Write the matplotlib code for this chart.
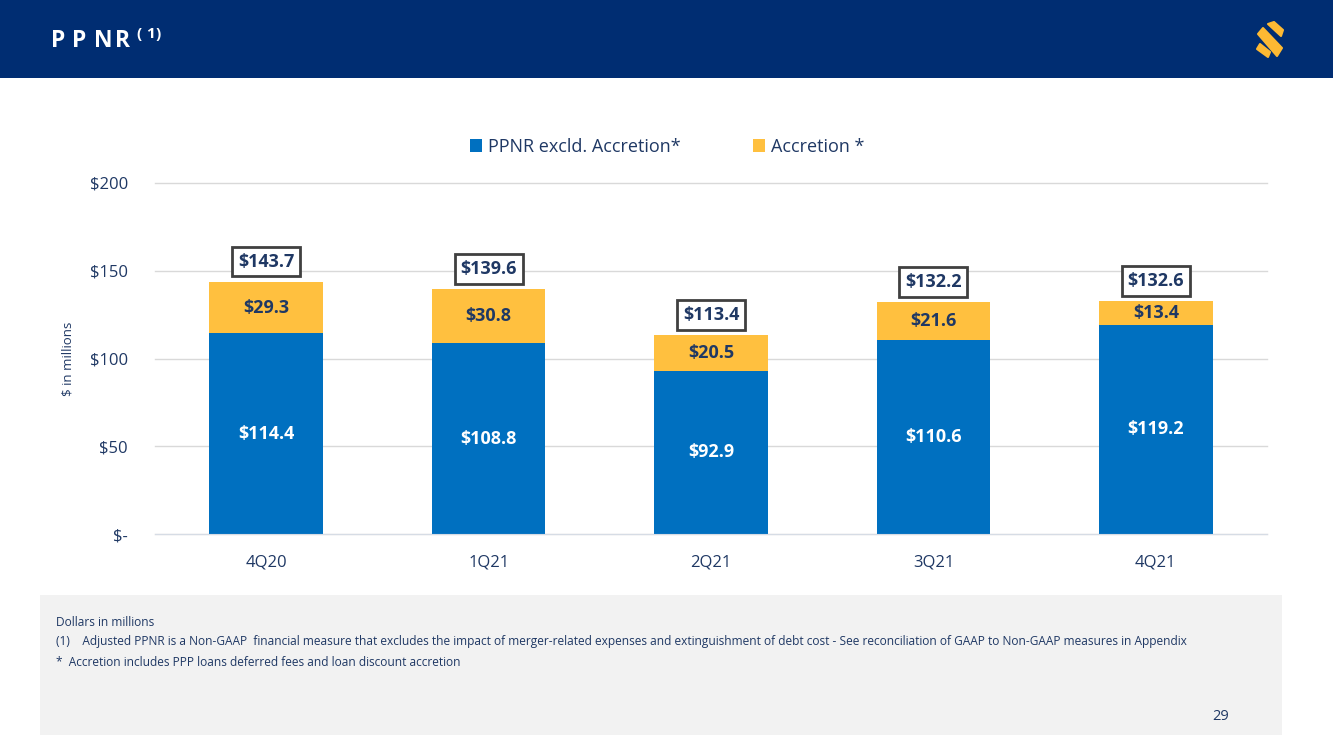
import numpy as np
import matplotlib.pyplot as plt
from matplotlib.patches import Rectangle, Polygon

# 数据
quarters = ['4Q20', '1Q21', '2Q21', '3Q21', '4Q21']
ppnr_excl = [114.4, 108.8, 92.9, 110.6, 119.2]
accretion = [29.3, 30.8, 20.5, 21.6, 13.4]
totals = [143.7, 139.6, 113.4, 132.2, 132.6]
y_ticks = [0, 50, 100, 150, 200]
y_tick_labels = ['$-', '$50', '$100', '$150', '$200']

W, H = 1333, 749
NAVY = '#1F3864'
BLUE = '#0070C0'
GOLD = '#FFC03F'

plt.rcParams['font.family'] = ['Open Sans', 'DejaVu Sans']

fig = plt.figure(figsize=(W / 100, H / 100), dpi=100)
fig.patch.set_facecolor('white')

def fx(px):
    return px / W

def fy(py):
    return 1 - py / H

# ===== 顶部标题栏 =====
fig.patches.append(Rectangle((0, fy(78)), 1, 78 / H, transform=fig.transFigure,
                             facecolor='#002D72', edgecolor='none', zorder=0))
for ch, px in zip('PPNR', [51, 72, 94, 115]):
    fig.text(fx(px), fy(41), ch, color='white', fontsize=16.5, fontweight='bold',
             va='center', ha='left')
for ch, px in zip('(1)', [136, 146, 156]):
    fig.text(fx(px), fy(34), ch, color='white', fontsize=11, fontweight='bold',
             va='center', ha='left')

# 标志
logo_parts = [
    [(1268, 24), (1274, 22), (1283, 30), (1281, 36)],
    [(1258, 34), (1263, 28), (1282, 48), (1277, 56)],
    [(1257, 49), (1260, 44), (1270, 52), (1268, 57)],
]
for pts in logo_parts:
    fig.patches.append(Polygon([(fx(a), fy(b)) for a, b in pts], closed=True,
                               transform=fig.transFigure, facecolor='#FDB933',
                               edgecolor='#FDB933', linewidth=1.5, joinstyle='round'))

# ===== 底部注释框 =====
fig.patches.append(Rectangle((fx(40), fy(735)), (1282 - 40) / W, (735 - 595) / H,
                             transform=fig.transFigure, facecolor='#F2F2F2',
                             edgecolor='none', zorder=0))
note_fs = 8.6
fig.text(fx(56), fy(622), 'Dollars in millions', fontsize=note_fs, color=NAVY, va='center')
fig.text(fx(56), fy(642), '(1)    Adjusted PPNR is a Non-GAAP  financial measure that excludes the impact of '
         'merger-related expenses and extinguishment of debt cost - See reconciliation of GAAP to '
         'Non-GAAP measures in Appendix', fontsize=note_fs, color=NAVY, va='center')
fig.text(fx(56), fy(663), '*  Accretion includes PPP loans deferred fees and loan discount accretion',
         fontsize=note_fs, color=NAVY, va='center')
fig.text(fx(1221), fy(716), '29', fontsize=10.5, color=NAVY, va='center', ha='center')

# ===== 主图 =====
ax = fig.add_axes([fx(155), fy(534), (1267 - 155) / W, (534 - 183) / H])
x = np.arange(len(quarters))
bw = 0.51
b1 = ax.bar(x, ppnr_excl, width=bw, color=BLUE, label='PPNR excld. Accretion*', zorder=3)
b2 = ax.bar(x, accretion, width=bw, bottom=ppnr_excl, color=GOLD, label='Accretion *', zorder=3)

for i in range(len(quarters)):
    ax.text(x[i], ppnr_excl[i] / 2, f'${ppnr_excl[i]:.1f}', ha='center', va='center',
            color='white', fontsize=13, fontweight='bold', zorder=4)
    ax.text(x[i], ppnr_excl[i] + accretion[i] / 2, f'${accretion[i]:.1f}', ha='center',
            va='center', color=NAVY, fontsize=13, fontweight='bold', zorder=4)
    ax.text(x[i], totals[i] + 11.5, f'${totals[i]:.1f}', ha='center', va='center',
            color=NAVY, fontsize=13, fontweight='bold', zorder=5,
            bbox=dict(boxstyle='square,pad=0.32', facecolor='white', edgecolor='#404040',
                      linewidth=2))

ax.set_xlim(-0.5, len(quarters) - 0.5)
ax.set_ylim(0, 200)
ax.set_yticks(y_ticks)
ax.set_yticklabels(y_tick_labels)
ax.set_xticks(x)
ax.set_xticklabels(quarters)
ax.tick_params(axis='both', length=0, labelsize=12, colors=NAVY)
ax.tick_params(axis='y', pad=19.5)
ax.tick_params(axis='x', pad=15)
ax.grid(axis='y', color='#D9D9D9', linewidth=1, zorder=0)
for s in ['top', 'right', 'left']:
    ax.spines[s].set_visible(False)
ax.spines['bottom'].set_color('#D6DCE5')
ax.spines['bottom'].set_zorder(4)
ax.set_ylabel('$ in millions', fontsize=9.5, color=NAVY)
ax.yaxis.set_label_coords(-0.072, 0.5)
for gl in ax.get_ygridlines():
    gl.set_clip_on(False)

fig.legend(handles=[b1, b2], loc='center', bbox_to_anchor=(fx(667), fy(147)), ncol=2,
           frameon=False, fontsize=13, handlelength=0.7, handleheight=0.7,
           handletextpad=0.3, columnspacing=4.0, labelcolor=NAVY)

fig.savefig('out.png', dpi=100)
